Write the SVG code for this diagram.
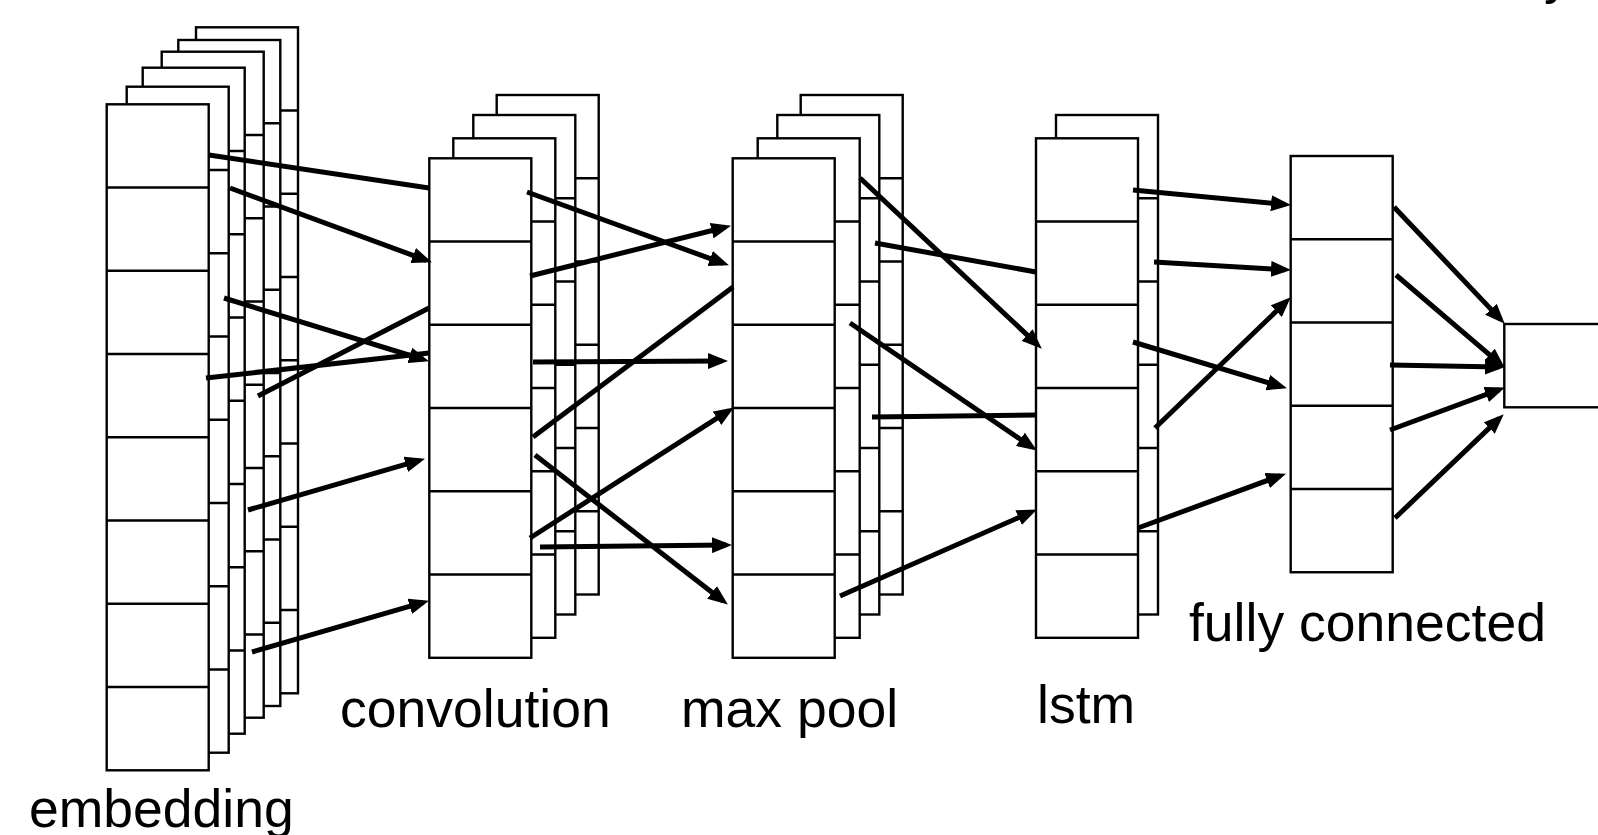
<svg xmlns="http://www.w3.org/2000/svg" xmlns:xlink="http://www.w3.org/1999/xlink" width="1598" height="835" viewBox="0 0 1598 835">
  <style>
    .cell { fill: #fff; stroke: #000; stroke-width: 2.4; }
    .div { stroke: #000; stroke-width: 2.4; }
    .link { stroke: #000; stroke-width: 5; fill: none; }
    .arrow { marker-end: url(#head); }
    .label { font-family: "Liberation Sans", Arial, Helvetica, sans-serif; font-size: 53.5px; fill: #000; }
  </style>
  <defs>
    <marker id="head" markerUnits="userSpaceOnUse" markerWidth="20" markerHeight="16" viewBox="0 0 20 16" refX="14" refY="8" orient="auto">
      <path d="M0,0 L20,8 L0,16 z" fill="#000"/>
    </marker>
    <!-- one feature map: a column of stacked cells, 83.25 px each -->
    <g id="col8">
      <rect class="cell" x="0" y="0" width="102" height="666"/>
      <path class="div" d="M0,83.25h102M0,166.5h102M0,249.75h102M0,333h102M0,416.25h102M0,499.5h102M0,582.75h102"/>
    </g>
    <g id="col6">
      <rect class="cell" x="0" y="0" width="102" height="499.5"/>
      <path class="div" d="M0,83.25h102M0,166.5h102M0,249.75h102M0,333h102M0,416.25h102"/>
    </g>
    <g id="col5">
      <rect class="cell" x="0" y="0" width="102" height="416.25"/>
      <path class="div" d="M0,83.25h102M0,166.5h102M0,249.75h102M0,333h102"/>
    </g>
  </defs>

  <rect width="1598" height="835" fill="#fff"/>

  <!-- title descender running in from above -->
  <text class="label" x="1544" y="-7">y</text>

  <g id="embedding">
    <use xlink:href="#col8" x="196" y="27.3"/>
    <use xlink:href="#col8" x="178.3" y="40"/>
    <use xlink:href="#col8" x="161.7" y="51.7"/>
    <use xlink:href="#col8" x="142.7" y="67.7"/>
    <use xlink:href="#col8" x="126.7" y="86.7"/>
    <use xlink:href="#col8" x="106.7" y="104.3"/>
    <text class="label" x="29" y="827">embedding</text>
  </g>

  <g id="convolution">
    <use xlink:href="#col6" x="496.7" y="95"/>
    <use xlink:href="#col6" x="473.3" y="115"/>
    <use xlink:href="#col6" x="453.3" y="138.3"/>
    <use xlink:href="#col6" x="429.3" y="158.3"/>
    <text class="label" x="340" y="727">convolution</text>
  </g>

  <g id="max-pool">
    <use xlink:href="#col6" x="800.7" y="95"/>
    <use xlink:href="#col6" x="777.3" y="115"/>
    <use xlink:href="#col6" x="757.7" y="138.3"/>
    <use xlink:href="#col6" x="732.7" y="158.3"/>
    <text class="label" x="681" y="727">max pool</text>
  </g>

  <g id="lstm">
    <use xlink:href="#col6" x="1056" y="115"/>
    <use xlink:href="#col6" x="1036" y="138.3"/>
    <text class="label" x="1037" y="723">lstm</text>
  </g>

  <g id="fully-connected">
    <use xlink:href="#col5" x="1290.7" y="156"/>
    <text class="label" x="1189" y="641">fully connected</text>
  </g>

  <g id="output">
    <rect class="cell" x="1504.3" y="324" width="102" height="83.3"/>
  </g>

  <g id="connectors">
    <!-- embedding to convolution -->
    <line class="link" x1="209" y1="155" x2="429" y2="188"/>
    <line class="link arrow" x1="230" y1="188" x2="426.3" y2="260.3"/>
    <line class="link arrow" x1="224" y1="298" x2="423.2" y2="359.5"/>
    <line class="link" x1="206" y1="378" x2="429" y2="353"/>
    <line class="link" x1="258" y1="396" x2="429" y2="308"/>
    <line class="link arrow" x1="248" y1="510" x2="419.2" y2="460.4"/>
    <line class="link arrow" x1="252" y1="652" x2="423.2" y2="602.4"/>

    <!-- convolution to max pool -->
    <line class="link arrow" x1="527" y1="192" x2="723.3" y2="263.3"/>
    <line class="link arrow" x1="530" y1="276" x2="725.2" y2="227.2"/>
    <line class="link arrow" x1="533" y1="362" x2="722" y2="361"/>
    <line class="link" x1="533" y1="437" x2="733" y2="287"/>
    <line class="link arrow" x1="530" y1="538" x2="728.8" y2="410.7"/>
    <line class="link arrow" x1="540" y1="547" x2="726" y2="545"/>
    <line class="link arrow" x1="535" y1="455" x2="723.1" y2="600.9"/>

    <!-- max pool to lstm -->
    <line class="link arrow" x1="860" y1="178" x2="1037.4" y2="344.6"/>
    <line class="link" x1="875" y1="243" x2="1036" y2="272"/>
    <line class="link arrow" x1="850" y1="323" x2="1031.9" y2="447.2"/>
    <line class="link" x1="872" y1="417" x2="1036" y2="415"/>
    <line class="link arrow" x1="840" y1="596" x2="1031.4" y2="512"/>

    <!-- lstm to fully connected -->
    <line class="link arrow" x1="1133" y1="190" x2="1285" y2="204.5"/>
    <line class="link arrow" x1="1154" y1="262" x2="1285" y2="269.7"/>
    <line class="link arrow" x1="1133" y1="342" x2="1281.2" y2="386.6"/>
    <line class="link arrow" x1="1155" y1="428" x2="1286.4" y2="301.5"/>
    <line class="link arrow" x1="1138" y1="528" x2="1280.3" y2="475.7"/>

    <!-- fully connected to output -->
    <line class="link arrow" x1="1394" y1="207" x2="1500.6" y2="319.4"/>
    <line class="link arrow" x1="1396" y1="275" x2="1500.2" y2="363.8"/>
    <line class="link arrow" x1="1390" y1="365" x2="1499" y2="366.9"/>
    <line class="link arrow" x1="1390" y1="430" x2="1499.3" y2="389.7"/>
    <line class="link arrow" x1="1395" y1="518" x2="1499.4" y2="418.4"/>
  </g>
</svg>
